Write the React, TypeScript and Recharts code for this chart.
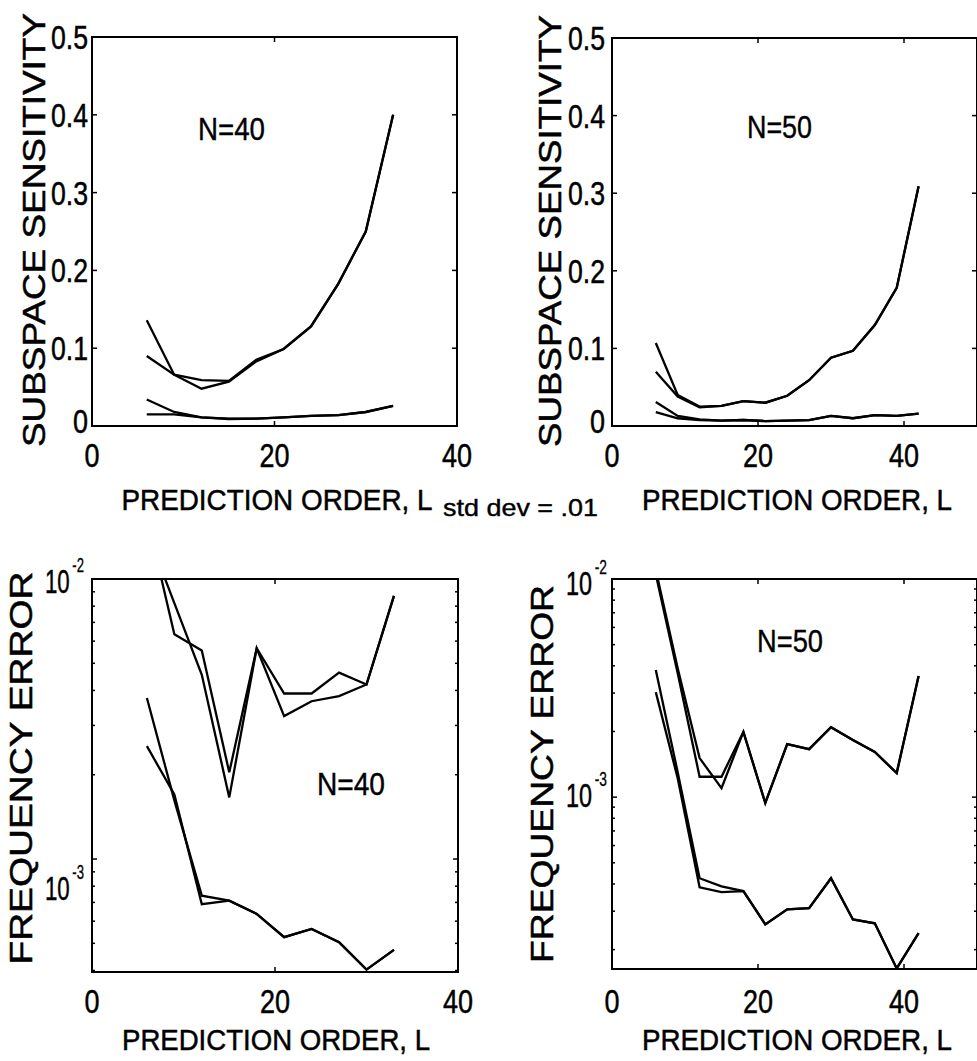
import React from 'react';
import { LineChart, Line, XAxis, YAxis, ReferenceArea } from 'recharts';

// prediction orders used for the two record lengths
const ordersN40 = [6, 9, 12, 15, 18, 21, 24, 27, 30, 33];
const ordersN50 = [6, 9, 12, 15, 18, 21, 24, 27, 30, 33, 36, 39, 42];

// subspace sensitivity, N=40
const sensN40Upper1 = [0.136, 0.066, 0.048, 0.057, 0.083, 0.099, 0.128, 0.183, 0.25, 0.40];
const sensN40Upper2 = [0.090, 0.066, 0.059, 0.058, 0.085, 0.099, 0.128, 0.183, 0.25, 0.40];
const sensN40Lower1 = [0.034, 0.018, 0.011, 0.009, 0.0095, 0.011, 0.013, 0.014, 0.018, 0.026];
const sensN40Lower2 = [0.015, 0.015, 0.011, 0.0095, 0.0095, 0.011, 0.013, 0.014, 0.018, 0.026];

// subspace sensitivity, N=50
const sensN50Upper1 = [0.107, 0.040, 0.025, 0.026, 0.032, 0.030, 0.039, 0.059, 0.088, 0.097, 0.130, 0.178, 0.309];
const sensN50Upper2 = [0.070, 0.038, 0.024, 0.026, 0.032, 0.030, 0.039, 0.059, 0.088, 0.097, 0.130, 0.178, 0.309];
const sensN50Lower1 = [0.031, 0.013, 0.0086, 0.007, 0.0077, 0.0064, 0.007, 0.0077, 0.013, 0.010, 0.014, 0.013, 0.016];
const sensN50Lower2 = [0.018, 0.010, 0.0077, 0.007, 0.0077, 0.0064, 0.007, 0.0077, 0.013, 0.010, 0.014, 0.013, 0.016];

// frequency error, N=40
const freqN40Upper1 = [0.0167, 0.00635, 0.00555, 0.00204, 0.00566, 0.0039, 0.0039, 0.00463, 0.0042, 0.0087];
const freqN40Upper2 = [0.0148, 0.0082, 0.00455, 0.00166, 0.00566, 0.00324, 0.00366, 0.00382, 0.0042, 0.0087];
const freqN40Lower1 = [0.00376, 0.00162, 0.00074, 0.00071, 0.000637, 0.000526, 0.000563, 0.000505, 0.000403, 0.000474];
const freqN40Lower2 = [0.00253, 0.0017, 0.00069, 0.00071, 0.000637, 0.000526, 0.000563, 0.000505, 0.000403, 0.000474];

// frequency error, N=50
const freqN50Upper1 = [0.011, 0.0039, 0.00151, 0.0011, 0.00199, 0.00094, 0.00175, 0.00166, 0.00209, 0.00183, 0.00161, 0.00129, 0.00359];
const freqN50Upper2 = [0.0105, 0.0037, 0.00124, 0.00124, 0.00199, 0.00094, 0.00175, 0.00166, 0.00209, 0.00183, 0.00161, 0.00129, 0.00359];
const freqN50Lower1 = [0.00383, 0.0013, 0.000425, 0.00039, 0.000371, 0.000261, 0.000306, 0.00031, 0.000425, 0.000275, 0.000264, 0.000164, 0.000238];
const freqN50Lower2 = [0.00303, 0.00122, 0.000386, 0.000367, 0.000371, 0.000261, 0.000306, 0.00031, 0.000425, 0.000275, 0.000264, 0.000164, 0.000238];

// axis ticks
const xTicksN40 = [0, 20, 40];
const xTicksN50 = [0, 20, 40, 50];
const xLabelsN50 = [0, 20, 40];
const sensTicks = [0, 0.1, 0.2, 0.3, 0.4, 0.5];
const freqTicksN40 = [4e-4, 5e-4, 6e-4, 7e-4, 8e-4, 9e-4, 1e-3, 2e-3, 3e-3, 4e-3, 5e-3, 6e-3, 7e-3, 8e-3, 9e-3, 1e-2];
const freqTicksN50 = [2e-4, 3e-4, 4e-4, 5e-4, 6e-4, 7e-4, 8e-4, 9e-4, 1e-3, 2e-3, 3e-3, 4e-3, 5e-3, 6e-3, 7e-3, 8e-3, 9e-3, 1e-2];
const freqDecades = [1e-3, 1e-2];

const TEXT_FONT = "'Liberation Sans', Arial, sans-serif";

function toRows(orders: number[], series: number[][]) {
  return orders.map((L, i) => {
    const row: Record<string, number> = { L };
    series.forEach((s, k) => {
      row['s' + k] = s[i];
    });
    return row;
  });
}

const same = (a: number, b: number) => a === b || Math.abs(a / (b || 1) - 1) < 1e-6;

// narrow helvetica look: squeeze glyphs to these widths
const narrowWidth = (s: string, digit: number) =>
  s.split('').reduce((w, c) => w + (c === '.' ? digit * 0.47 : c === '-' ? digit * 0.55 : digit), 0);

type PanelDef = {
  left: number;
  top: number;
  width: number;
  height: number;
  plot: { l: number; t: number; r: number; b: number };
  rows: Record<string, number>[];
  xMax: number;
  xTicks: number[];
  xLabels: number[];
  xLabelDy: number;
  yDomain: [number, number];
  log: boolean;
  yTicks: number[];
  yLabels: number[];
  yGap: number;
  yLabelWidth?: number;
  yDy: (v: number) => number;
};

function Panel({ def }: { def: PanelDef }) {
  const { plot } = def;
  const plotW = plot.r - plot.l;
  const plotH = plot.b - plot.t;

  const xTick = (props: any) => {
    const { x, y, payload } = props;
    const v = payload.value;
    const s = String(v);
    const showLabel = def.xLabels.some((t) => t === v);
    return (
      <g>
        <line x1={x} x2={x} y1={y} y2={y - 5} stroke="#000" strokeWidth={1.5} />
        <line x1={x} x2={x} y1={y - plotH} y2={y - plotH + 5} stroke="#000" strokeWidth={1.5} />
        {showLabel && (
          <text
            x={x}
            y={y + def.xLabelDy}
            textAnchor="middle"
            fontFamily={TEXT_FONT}
            fontSize={33}
            textLength={narrowWidth(s, 15)}
            lengthAdjust="spacingAndGlyphs"
            stroke="#000"
            strokeWidth={0.5}
            fill="#000"
          >
            {s}
          </text>
        )}
      </g>
    );
  };

  const yTick = (props: any) => {
    const { x, y, payload } = props;
    const v = payload.value;
    const major = def.yLabels.some((t) => same(v, t));
    const len = major ? 5 : 3;
    let label: React.ReactNode = null;
    if (major) {
      if (def.log) {
        const exp = String(Math.round(Math.log10(v)));
        // "10" with a raised exponent, one text element
        label = (
          <text
            x={x - def.yGap}
            y={y + def.yDy(v)}
            textAnchor="end"
            fontFamily={TEXT_FONT}
            fontSize={34}
            textLength={def.yLabelWidth}
            lengthAdjust="spacingAndGlyphs"
            stroke="#000"
            strokeWidth={0.5}
            fill="#000"
          >
            10
            <tspan dx={4} dy={-21} fontSize={20} strokeWidth={0.3}>
              {exp}
            </tspan>
          </text>
        );
      } else {
        const s = String(v);
        label = (
          <text
            x={x - def.yGap}
            y={y + def.yDy(v)}
            textAnchor="end"
            fontFamily={TEXT_FONT}
            fontSize={33}
            textLength={narrowWidth(s, 15)}
            lengthAdjust="spacingAndGlyphs"
            stroke="#000"
            strokeWidth={0.5}
            fill="#000"
          >
            {s}
          </text>
        );
      }
    }
    return (
      <g>
        <line x1={x} x2={x + len} y1={y} y2={y} stroke="#000" strokeWidth={1.5} />
        <line x1={x + plotW} x2={x + plotW - len} y1={y} y2={y} stroke="#000" strokeWidth={1.5} />
        {label}
      </g>
    );
  };

  return (
    <div style={{ position: 'absolute', left: def.left, top: def.top, width: def.width, height: def.height }}>
      <LineChart
        width={def.width}
        height={def.height}
        data={def.rows}
        margin={{ top: plot.t, right: def.width - plot.r, bottom: 0, left: 0 }}
      >
        <XAxis
          dataKey="L"
          type="number"
          domain={[0, def.xMax]}
          ticks={def.xTicks}
          interval={0}
          allowDataOverflow
          axisLine={false}
          tickLine={false}
          tickSize={0}
          tickMargin={0}
          height={def.height - plot.b}
          tick={xTick}
        />
        <YAxis
          type="number"
          scale={def.log ? 'log' : 'linear'}
          domain={def.yDomain}
          ticks={def.yTicks}
          interval={0}
          allowDataOverflow
          axisLine={false}
          tickLine={false}
          tickSize={0}
          tickMargin={0}
          width={plot.l}
          tick={yTick}
        />
        <ReferenceArea
          x1={0}
          x2={def.xMax}
          y1={def.yDomain[0]}
          y2={def.yDomain[1]}
          fill="none"
          stroke="#000"
          strokeWidth={2}
        />
        {['s0', 's1', 's2', 's3'].map((k) => (
          <Line
            key={k}
            type="linear"
            dataKey={k}
            stroke="#000"
            strokeWidth={2.3}
            dot={false}
            activeDot={false}
            isAnimationActive={false}
          />
        ))}
      </LineChart>
    </div>
  );
}

const panels: PanelDef[] = [
  {
    left: 0,
    top: 0,
    width: 490,
    height: 530,
    plot: { l: 92, t: 37, r: 457, b: 426 },
    rows: toRows(ordersN40, [sensN40Upper1, sensN40Upper2, sensN40Lower1, sensN40Lower2]),
    xMax: 40,
    xTicks: xTicksN40,
    xLabels: xTicksN40,
    xLabelDy: 41,
    yDomain: [0, 0.5],
    log: false,
    yTicks: sensTicks,
    yLabels: sensTicks,
    yGap: 4,
    yDy: (v) => (v === 0 ? 7 : 12),
  },
  {
    left: 490,
    top: 0,
    width: 487,
    height: 530,
    plot: { l: 122, t: 38, r: 487, b: 426 },
    rows: toRows(ordersN50, [sensN50Upper1, sensN50Upper2, sensN50Lower1, sensN50Lower2]),
    xMax: 50,
    xTicks: xTicksN50,
    xLabels: xLabelsN50,
    xLabelDy: 41,
    yDomain: [0, 0.5],
    log: false,
    yTicks: sensTicks,
    yLabels: sensTicks,
    yGap: 7,
    yDy: (v) => (v === 0 ? 7 : 12),
  },
  {
    left: 0,
    top: 540,
    width: 490,
    height: 521,
    plot: { l: 92, t: 39, r: 458, b: 432 },
    rows: toRows(ordersN40, [freqN40Upper1, freqN40Upper2, freqN40Lower1, freqN40Lower2]),
    xMax: 40,
    xTicks: xTicksN40,
    xLabels: xTicksN40,
    xLabelDy: 41,
    yDomain: [3.95e-4, 1e-2],
    log: true,
    yTicks: freqTicksN40,
    yLabels: freqDecades,
    yGap: 8,
    yLabelWidth: 39,
    yDy: (v) => (same(v, 1e-2) ? 14 : 41),
  },
  {
    left: 490,
    top: 540,
    width: 487,
    height: 521,
    plot: { l: 122, t: 39, r: 487, b: 429 },
    rows: toRows(ordersN50, [freqN50Upper1, freqN50Upper2, freqN50Lower1, freqN50Lower2]),
    xMax: 50,
    xTicks: xTicksN50,
    xLabels: xLabelsN50,
    xLabelDy: 44,
    yDomain: [1.63e-4, 1e-2],
    log: true,
    yTicks: freqTicksN50,
    yLabels: freqDecades,
    yGap: 5,
    yLabelWidth: 41,
    yDy: (v) => (same(v, 1e-2) ? 16 : 10),
  },
];

// axis titles and annotations, page coordinates
const xTitles = [
  { x: 277, y: 510, len: 311 },
  { x: 797, y: 510, len: 310 },
  { x: 276, y: 1050, len: 308 },
  { x: 797, y: 1050, len: 310 },
];
const yTitles = [
  { text: 'SUBSPACE SENSITIVITY', x: 45, y: 230, len: 434 },
  { text: 'SUBSPACE SENSITIVITY', x: 561, y: 231, len: 432 },
  { text: 'FREQUENCY ERROR', x: 32, y: 768, len: 393 },
  { text: 'FREQUENCY ERROR', x: 553, y: 774, len: 378 },
];
const notes = [
  { text: 'N=40', x: 231.5, y: 140, len: 67, size: 31 },
  { text: 'N=50', x: 779.5, y: 138, len: 65, size: 31 },
  { text: 'N=40', x: 351, y: 795, len: 68, size: 31 },
  { text: 'N=50', x: 790, y: 652, len: 66, size: 31 },
  { text: 'std dev = .01', x: 520.5, y: 516, len: 155, size: 24 },
];

export default function App() {
  return (
    <div style={{ position: 'absolute', left: 0, top: 0, width: 977, height: 1061, background: '#fff', overflow: 'hidden' }}>
      {panels.map((p, i) => (
        <Panel key={i} def={p} />
      ))}
      <svg
        width={977}
        height={1061}
        style={{ position: 'absolute', left: 0, top: 0, pointerEvents: 'none' }}
      >
        {xTitles.map((t, i) => (
          <text
            key={'x' + i}
            x={t.x}
            y={t.y}
            textAnchor="middle"
            fontFamily={TEXT_FONT}
            fontSize={29}
            textLength={t.len}
            lengthAdjust="spacingAndGlyphs"
            stroke="#000"
            strokeWidth={0.5}
            fill="#000"
          >
            PREDICTION ORDER, L
          </text>
        ))}
        {yTitles.map((t, i) => (
          <text
            key={'y' + i}
            transform={`translate(${t.x},${t.y}) rotate(-90)`}
            textAnchor="middle"
            fontFamily={TEXT_FONT}
            fontSize={31}
            textLength={t.len}
            lengthAdjust="spacingAndGlyphs"
            stroke="#000"
            strokeWidth={0.5}
            fill="#000"
          >
            {t.text}
          </text>
        ))}
        {notes.map((t, i) => (
          <text
            key={'n' + i}
            x={t.x}
            y={t.y}
            textAnchor="middle"
            fontFamily={TEXT_FONT}
            fontSize={t.size}
            textLength={t.len}
            lengthAdjust="spacingAndGlyphs"
            stroke="#000"
            strokeWidth={0.4}
            fill="#000"
          >
            {t.text}
          </text>
        ))}
      </svg>
    </div>
  );
}
